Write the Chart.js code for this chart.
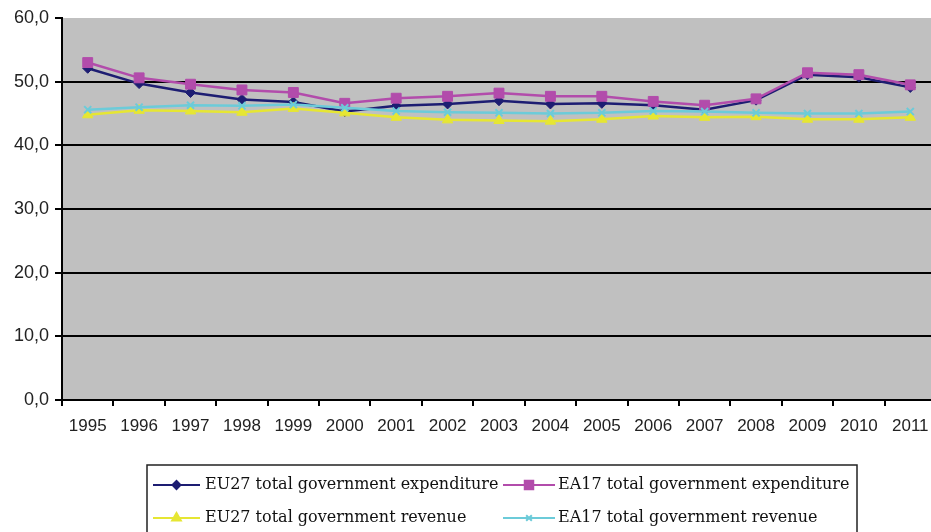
<!DOCTYPE html>
<html>
<head>
<meta charset="utf-8">
<script src="https://cdn.jsdelivr.net/npm/chart.js@4/dist/chart.umd.min.js"></script>
<style>
  html, body { margin: 0; padding: 0; background: #fff; overflow: hidden; }
  #wrap { width: 944px; height: 532px; }
</style>
</head>
<body>
<div id="wrap"><canvas id="chart"></canvas></div>
<script>
var years = ['1995', '1996', '1997', '1998', '1999', '2000', '2001', '2002', '2003',
             '2004', '2005', '2006', '2007', '2008', '2009', '2010', '2011'];
var eu27Expenditure = [52.1, 49.7, 48.3, 47.2, 46.8, 45.3, 46.2, 46.5, 47.0, 46.5, 46.6, 46.3, 45.6, 47.1, 51.1, 50.7, 49.1];
var ea17Expenditure = [53.0, 50.6, 49.6, 48.7, 48.3, 46.6, 47.4, 47.7, 48.2, 47.7, 47.7, 46.9, 46.3, 47.3, 51.4, 51.1, 49.5];
var eu27Revenue = [44.8, 45.5, 45.4, 45.2, 45.8, 45.1, 44.4, 44.0, 43.9, 43.8, 44.1, 44.6, 44.4, 44.5, 44.1, 44.1, 44.4];
var ea17Revenue = [45.6, 46.0, 46.3, 46.2, 46.4, 45.9, 45.4, 45.2, 45.1, 45.0, 45.1, 45.4, 45.3, 45.1, 45.0, 45.0, 45.3];
var seriesNames = ['EU27 total government expenditure', 'EA17 total government expenditure',
                   'EU27 total government revenue', 'EA17 total government revenue'];
var yTicks = [0, 10, 20, 30, 40, 50, 60];

var COLORS = ['#1d1d72', '#b24cab', '#e6e633', '#6ccbd9'];
var STYLES = ['rectRot', 'rect', 'triangle', 'crossRot'];
var RADII = [5, 7, 6, 5];

function makeSet(i, values) {
    return {
        label: seriesNames[i],
        data: values,
        borderColor: COLORS[i],
        backgroundColor: COLORS[i],
        borderWidth: 2.5,
        pointStyle: STYLES[i],
        pointRadius: RADII[i],
        pointBorderWidth: STYLES[i] == 'crossRot' ? 2 : 1,
        pointBackgroundColor: COLORS[i],
        pointBorderColor: COLORS[i],
        tension: 0,
        order: 3 - i
    };
}

// grey plot area
var plotBackground = {
    id: 'plotBackground',
    beforeDraw: function(chart) {
        var a = chart.chartArea, ctx = chart.ctx;
        ctx.save();
        ctx.fillStyle = '#c0c0c0';
        ctx.fillRect(a.left, a.top, a.right - a.left, a.bottom - a.top);
        ctx.restore();
    }
};

// boxed legend below the axis, two columns like the original
var boxLegend = {
    id: 'boxLegend',
    afterDraw: function(chart) {
        var ctx = chart.ctx;
        var cols = [{ x0: 153, x1: 200, tx: 205 }, { x0: 503, x1: 555, tx: 558 }];
        var rows = [485, 518];
        ctx.save();
        ctx.strokeStyle = '#222';
        ctx.lineWidth = 1.5;
        ctx.strokeRect(147, 465, 710, 80);
        ctx.font = '16px "DejaVu Serif"';
        ctx.textBaseline = 'middle';
        chart.data.datasets.forEach(function(ds, i) {
            var c = cols[i % 2], y = rows[Math.floor(i / 2)];
            ctx.strokeStyle = ds.borderColor;
            ctx.lineWidth = 2;
            ctx.beginPath();
            ctx.moveTo(c.x0, y);
            ctx.lineTo(c.x1, y);
            ctx.stroke();
            ctx.fillStyle = ds.backgroundColor;
            Chart.helpers.drawPoint(ctx, {
                pointStyle: ds.pointStyle,
                radius: ds.pointRadius - 1,
                rotation: 0,
                borderWidth: ds.pointBorderWidth
            }, (c.x0 + c.x1) / 2, y);
            ctx.fillStyle = '#111';
            ctx.fillText(ds.label, c.tx, y);
        });
        ctx.restore();
    }
};

new Chart(document.getElementById('chart'), {
    type: 'line',
    data: {
        labels: years,
        datasets: [
            makeSet(0, eu27Expenditure),
            makeSet(1, ea17Expenditure),
            makeSet(2, eu27Revenue),
            makeSet(3, ea17Revenue)
        ]
    },
    options: {
        responsive: true,
        maintainAspectRatio: false,
        animation: false,
        layout: { padding: { top: 18, right: 1, left: 0, bottom: 0 } },
        plugins: { legend: { display: false }, tooltip: { enabled: false } },
        scales: {
            x: {
                offset: true,
                grid: { offset: true, drawOnChartArea: false, drawTicks: true, tickLength: 6, color: '#000', lineWidth: 2 },
                border: { color: '#000', width: 2 },
                ticks: { color: '#222', font: { family: 'Liberation Sans', size: 17 }, padding: 10, maxRotation: 0, autoSkip: false },
                afterFit: function(scale) { scale.height = 132; }
            },
            y: {
                min: 0,
                max: 60,
                afterBuildTicks: function(scale) {
                    scale.ticks = yTicks.map(function(v) { return { value: v }; });
                },
                grid: {
                    color: function(c) { return c.tick && c.tick.value == 60 ? 'rgba(0,0,0,0)' : '#000'; },
                    tickColor: '#000',
                    lineWidth: 2,
                    tickLength: 7
                },
                border: { color: '#000', width: 2 },
                ticks: {
                    color: '#222',
                    font: { family: 'Liberation Sans', size: 18 },
                    padding: 6,
                    callback: function(v) { return v.toFixed(1).replace('.', ','); }
                },
                afterFit: function(scale) { scale.width = 62; }
            }
        }
    },
    plugins: [plotBackground, boxLegend]
});
</script>
</body>
</html>
